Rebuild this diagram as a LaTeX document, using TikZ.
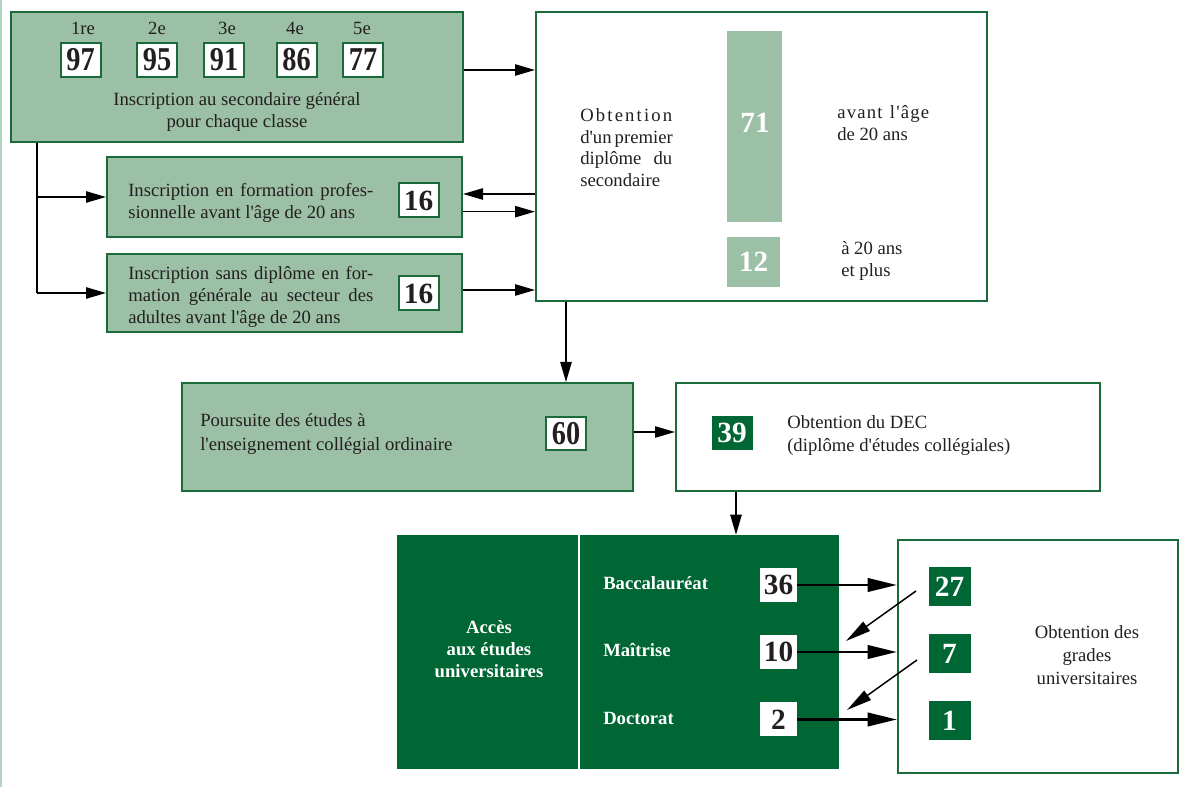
\documentclass[tikz,border=0pt]{standalone}
\usepackage{fontspec}
\setmainfont{Liberation Serif}
\newfontfamily\numfont[FakeStretch=0.85]{Liberation Serif}
\usetikzlibrary{arrows.meta}
\newcommand{\ap}{\textquotesingle}
\newcommand{\ls}{\hspace{0pt plus 1fil}}
\definecolor{paleg}{RGB}{155,192,166}
\definecolor{edgeg}{RGB}{27,107,58}
\definecolor{deepg}{RGB}{0,102,51}
\definecolor{ink}{RGB}{35,31,32}
\definecolor{rimg}{RGB}{175,212,192}
\tikzset{
  txt/.style={font=\fontsize{14}{16.25}\selectfont, text=ink, inner sep=0pt},
  lbox/.style={draw=edgeg, line width=1.5pt, fill=paleg, inner sep=0pt},
  wbox/.style={draw=edgeg, line width=1.5pt, fill=white, inner sep=0pt},
  numA/.style={wbox, minimum width=30pt, minimum height=25.5pt, text=ink,
    font=\numfont\bfseries\fontsize{25}{25}\selectfont},
  numB/.style={wbox, minimum width=30pt, minimum height=25.5pt, text=ink,
    font=\bfseries\fontsize{22}{22}\selectfont},
  numW/.style={fill=white, inner sep=0pt, minimum width=27.75pt, minimum height=25.5pt,
    text=ink, font=\bfseries\fontsize{22}{22}\selectfont},
  numD/.style={fill=deepg, inner sep=0pt, minimum width=31.5pt, minimum height=29.25pt,
    text=white, font=\bfseries\fontsize{22}{22}\selectfont},
  arr/.style={line width=1.1pt, -{Triangle[length=15pt, width=8.5pt]}},
  arrB/.style={line width=2.2pt, -{Triangle[length=22pt, width=10pt]}},
  arrD/.style={line width=1.1pt, -{Triangle[length=19pt, width=8.5pt]}},
}
\begin{document}
\begin{tikzpicture}[x=0.75pt, y=-0.75pt]
\useasboundingbox (0,0) rectangle (1183,787);
% thin rule along the left edge
\draw[rimg, line width=1.5pt] (1,0) -- (1,787);

% --- secondary school enrolment ---
\node[lbox, minimum width=339pt, minimum height=97.5pt] (A) at (237,77) {};
\node[txt] (g1) at (83,28) {1re};
\node[txt] (g2) at (157,28) {2e};
\node[txt] (g3) at (227,28) {3e};
\node[txt] (g4) at (295,28) {4e};
\node[txt] (g5) at (362,28) {5e};
\node[numA] (n97) at (80.5,60) {97};
\node[numA] (n95) at (157,60) {95};
\node[numA] (n91) at (224,60) {91};
\node[numA] (n86) at (296.5,60) {86};
\node[numA] (n77) at (363,60) {77};
\node[txt, align=center] (tA) at (237,112) {Inscription au secondaire général\\pour chaque classe};

\node[lbox, minimum width=266.25pt, minimum height=60pt] (B) at (284.5,197) {};
\node[txt, align=left, anchor=west] (tB) at (128,203) {\makebox[183.75pt][s]{Inscription en formation profes-}\\sionnelle avant l\ap âge de 20 ans};
\node[numB] (n16a) at (418.5,200.5) {16};

\node[lbox, minimum width=266.25pt, minimum height=58.5pt] (C) at (284.5,293) {};
\node[txt, align=left, anchor=west] (tC) at (128,297) {\makebox[183.75pt][s]{Inscription sans diplôme en for-}\\\makebox[183.75pt][s]{mation générale au secteur des}\\adultes avant l\ap âge de 20 ans};
\node[numB] (n16b) at (418.5,293.5) {16};

% --- first secondary diploma ---
\node[wbox, minimum width=338.25pt, minimum height=216.75pt] (D) at (761.5,156.5) {};
\node[txt, align=left, anchor=west] (tD) at (580,147.5) {\makebox[69pt][s]{O\hfill b\hfill t\hfill e\hfill n\hfill t\hfill i\hfill o\hfill n}\\\makebox[69pt][s]{d\ap un premier}\\\makebox[69pt][s]{diplôme du}\\secondaire};
\node[fill=paleg, inner sep=0pt, minimum width=41.25pt, minimum height=143.25pt] (bar71) at (754.5,126.5) {};
\node[text=white, font=\bfseries\fontsize{22}{22}\selectfont, inner sep=0pt] (v71) at (755,122.5) {71};
\node[fill=paleg, inner sep=0pt, minimum width=39.75pt, minimum height=37.5pt, text=white, font=\bfseries\fontsize{22}{22}\selectfont] (bar12) at (753.5,262) {12};
\node[txt, align=left, anchor=west] (tD1) at (837,123) {\makebox[69pt][s]{a\ls v\ls a\ls n\ls t\hspace{3.5pt plus 2fil}l\ls\ap\ls â\ls g\ls e}\\de 20 ans};
\node[txt, align=left, anchor=west] (tD2) at (841,261) {à 20 ans\\et plus};

% --- college ---
\node[lbox, minimum width=338.25pt, minimum height=81pt] (E) at (407.5,437) {};
\node[txt, align=left, anchor=west, font=\fontsize{14}{18}\selectfont] (tE) at (200,434) {Poursuite des études à\\l\ap enseignement collégial ordinaire};
\node[numA, minimum height=24.75pt] (n60) at (566,433.5) {60};

\node[wbox, minimum width=318pt, minimum height=81pt] (F) at (888,437) {};
\node[numD, minimum width=30.75pt, minimum height=25.5pt] (n39) at (732,433) {39};
\node[txt, align=left, anchor=west, font=\fontsize{14}{17.25}\selectfont] (tF) at (787,435.5) {Obtention du DEC\\(diplôme d\ap études collégiales)};

% --- university ---
\node[fill=deepg, inner sep=0pt, minimum width=331.5pt, minimum height=175.5pt] (G) at (618,652) {};
\draw[white, line width=1.5pt] ([xshift=136.5pt]G.north west) -- ([xshift=136.5pt]G.south west);
\node[txt, text=white, align=center, font=\bfseries\fontsize{14}{16.5}\selectfont] (tG) at (489,649) {Accès\\aux études\\universitaires};
\node[txt, text=white, anchor=west, font=\bfseries\fontsize{14}{16.5}\selectfont] (lBac) at (603,583) {Baccalauréat};
\node[txt, text=white, anchor=west, font=\bfseries\fontsize{14}{16.5}\selectfont] (lMai) at (603,650) {Maîtrise};
\node[txt, text=white, anchor=west, font=\bfseries\fontsize{14}{16.5}\selectfont] (lDoc) at (603,718) {Doctorat};
\node[numW] (n36) at (778.5,585) {36};
\node[numW] (n10) at (778.5,652) {10};
\node[numW] (n2) at (778.5,719.5) {2};

\node[wbox, minimum width=210pt, minimum height=174.75pt] (H) at (1038,656.5) {};
\node[numD] (n27) at (949.5,586.5) {27};
\node[numD] (n7) at (949.5,653.5) {7};
\node[numD] (n1) at (949.5,721) {1};
\node[txt, align=center, font=\fontsize{14}{17.25}\selectfont] (tH) at (1087,655) {Obtention des\\grades\\universitaires};

% --- connectors ---
\draw[arr] ([yshift=5.25pt]A.east) -- ([yshift=5.25pt]A.east -| D.west);
\draw[line width=1.1pt] ([xshift=20.25pt]A.south west) -- ([xshift=20.25pt]A.south west |- C.west);
\draw[arr] ([xshift=20.25pt]A.south west |- B.west) -- (B.west);
\draw[arr] ([xshift=20.25pt]A.south west |- C.west) -- (C.west);
\draw[arr] ([yshift=2.25pt]B.east -| D.west) -- ([yshift=2.25pt]B.east);
\draw[arr] ([yshift=-11pt]B.east) -- ([yshift=-11pt]B.east -| D.west);
\draw[arr] ([yshift=2.25pt]C.east) -- ([yshift=2.25pt]C.east -| D.west);
\draw[arr] (n60 |- D.south) -- (n60 |- E.north);
\draw[arr] ([yshift=3.75pt]E.east) -- ([yshift=3.75pt]E.east -| F.west);
\draw[arr] ([xshift=3pt]n39 |- F.south) -- ([xshift=3pt]n39 |- G.north);
\draw[arrB] (n36.east) -- (n36.east -| H.west);
\draw[arrB] (n10.east) -- (n10.east -| H.west);
\draw[arrB] (n2.east) -- (n2.east -| H.west);
\coordinate (d1s) at (916,591);
\coordinate (d1e) at (846,641);
\coordinate (d2s) at (917,660);
\coordinate (d2e) at (847,710);
\draw[arrD] (d1s) -- (d1e);
\draw[arrD] (d2s) -- (d2e);
\end{tikzpicture}
\end{document}
